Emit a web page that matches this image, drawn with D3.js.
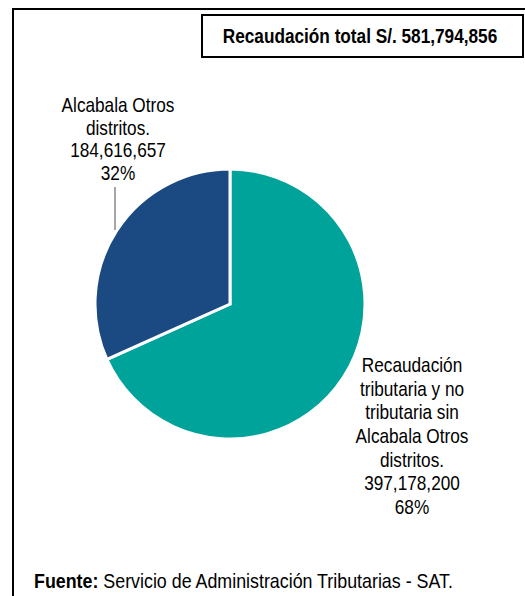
<!DOCTYPE html>
<html>
<head>
<meta charset="utf-8">
<script src="https://cdn.jsdelivr.net/npm/d3@7"></script>
<style>
  html, body { margin: 0; padding: 0; background: #fff; }
  svg { display: block; }
  text { font-family: 'Liberation Sans Narrow', 'Arial Narrow', 'Liberation Sans', Arial, sans-serif; fill: #000; }
</style>
</head>
<body>
<svg id="chart" width="525" height="596"></svg>
<script>
const categories = [
  "Recaudación tributaria y no tributaria sin Alcabala Otros distritos.",
  "Alcabala Otros distritos."
];
const values = [397178200, 184616657];
const valueLabels = ["397,178,200", "184,616,657"];
const percentLabels = ["68%", "32%"];
const colors = ["#00a39a", "#1b4a82"];
const labelLines = [
  ["Recaudación", "tributaria y no", "tributaria sin", "Alcabala Otros", "distritos."],
  ["Alcabala Otros", "distritos."]
];
const titleText = "Recaudación total S/. 581,794,856";
const sourceBold = "Fuente:";
const sourceText = " Servicio de Administración Tributarias - SAT.";

const SX = 0.82; // horizontal condensing to mimic a narrow typeface

const svg = d3.select("#chart");

// outer frame (top + left)
svg.append("path")
  .attr("d", "M13,596 L13,9 L525,9")
  .attr("fill", "none").attr("stroke", "#000").attr("stroke-width", 2);

// title box
svg.append("rect")
  .attr("x", 202).attr("y", 15).attr("width", 321).attr("height", 42)
  .attr("fill", "#fff").attr("stroke", "#000").attr("stroke-width", 2);
svg.append("text")
  .attr("transform", `translate(360,43) scale(${SX},1)`)
  .attr("text-anchor", "middle")
  .attr("font-size", 21).attr("font-weight", "bold")
  .text(titleText);

// pie
const cx = 230, cy = 304, r = 135;
const pie = d3.pie().sort(null).value(d => d)(values);
const arc = d3.arc().innerRadius(0).outerRadius(r);
const g = svg.append("g").attr("transform", `translate(${cx},${cy})`);
g.selectAll("path.slice")
  .data(pie)
  .join("path")
  .attr("class", "slice")
  .attr("d", arc)
  .attr("fill", (d, i) => colors[i])
  .attr("stroke", "#fff")
  .attr("stroke-width", 3)
  .attr("stroke-linejoin", "miter");

// labels
const labelPos = [
  { x: 412, y: 372, lh: 23.7 },
  { x: 118, y: 112, lh: 22.7 }
];
labelLines.forEach((lines, i) => {
  const all = lines.concat([valueLabels[i], percentLabels[i]]);
  const t = svg.append("text")
    .attr("transform", `translate(${labelPos[i].x},${labelPos[i].y}) scale(${SX},1)`)
    .attr("text-anchor", "middle")
    .attr("font-size", 21);
  all.forEach((ln, j) => {
    t.append("tspan")
      .attr("x", 0)
      .attr("y", j * labelPos[i].lh)
      .text(ln);
  });
});

// leader line for small slice
svg.append("line")
  .attr("x1", 115).attr("y1", 187).attr("x2", 115).attr("y2", 230)
  .attr("stroke", "#a6a6a6").attr("stroke-width", 2);

// source
const src = svg.append("text")
  .attr("transform", `translate(34,588) scale(0.85,1)`)
  .attr("font-size", 21);
src.append("tspan").attr("font-weight", "bold").text(sourceBold);
src.append("tspan").text(sourceText);
</script>
</body>
</html>
